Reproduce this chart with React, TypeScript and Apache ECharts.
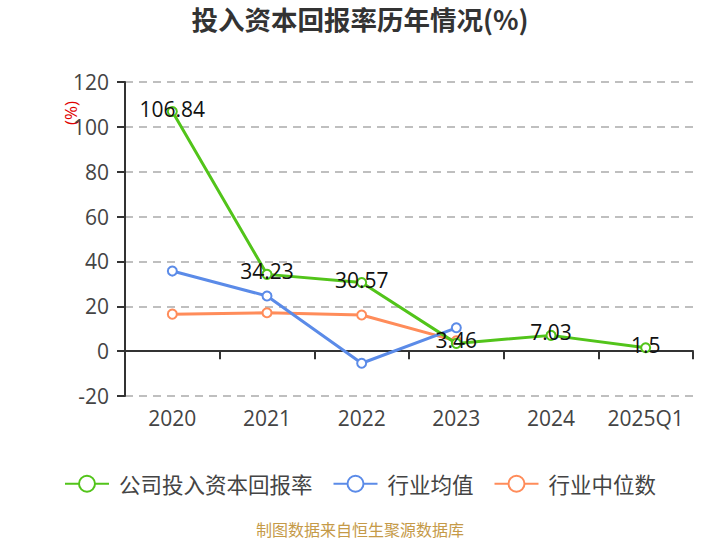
import React, { useEffect, useRef } from "react";
import * as echarts from "echarts";

const categories = ["2020", "2021", "2022", "2023", "2024", "2025Q1"];
const companyValues = [106.84, 34.23, 30.57, 3.46, 7.03, 1.5];
const industryAvg = [35.7, 24.6, -5.4, 10.4, null, null];
const industryMedian = [16.5, 17.1, 16.1, 4.6, null, null];
const seriesNames = ["公司投入资本回报率", "行业均值", "行业中位数"];
const colors = ["#52C41A", "#5B8BE8", "#FF8C5A"];

const FONT = "'Open Sans', 'Noto Sans CJK SC', sans-serif";
const CJK = "'Noto Sans CJK SC', 'Open Sans', sans-serif";

export default function App() {
  const ref = useRef<HTMLDivElement>(null);
  useEffect(() => {
    document.body.style.margin = "0";
    if (!ref.current) return;
    const chart = echarts.init(ref.current, undefined, { renderer: "svg" });
    const mk = (i: number, data: (number | null)[], withLabel: boolean) => ({
      name: seriesNames[i],
      type: "line",
      data,
      symbol: "emptyCircle",
      symbolSize: 9,
      showSymbol: true,
      lineStyle: { width: 3, color: colors[i] },
      itemStyle: { color: colors[i], borderWidth: 2 },
      z: 3 - i,
      label: withLabel
        ? {
            show: true,
            position: "top",
            distance: -13,
            color: "#111",
            fontSize: 21,
            fontFamily: FONT,
          }
        : { show: false },
    });
    chart.setOption({
      animation: false,
      textStyle: { fontFamily: FONT },
      title: {
        text: "投入资本回报率历年情况(%)",
        left: "center",
        top: 0,
        textStyle: { fontSize: 26.5, fontWeight: "bold", color: "#333", fontFamily: CJK },
      },
      grid: { left: 125, right: 27, top: 82, bottom: 144, containLabel: false },
      legend: {
        top: 468,
        left: "center",
        itemWidth: 44,
        itemHeight: 16,
        itemGap: 20,
        icon: "path://M0,8 L14,8 M30,8 L44,8 M30,8 A8,8 0 1 1 14,8 A8,8 0 1 1 30,8 Z",
        textStyle: { fontSize: 21.5, color: "#444", fontFamily: CJK, padding: [0, 0, 0, 5] },
        data: seriesNames.map((n, i) => ({
          name: n,
          itemStyle: { color: "transparent", borderColor: colors[i], borderWidth: 2 },
        })),
      },
      graphic: [
        {
          type: "text",
          x: 70,
          y: 113,
          rotation: Math.PI / 2,
          style: {
            text: "(%)",
            fill: "#E00000",
            fontSize: 17,
            fontFamily: FONT,
            align: "center",
            verticalAlign: "middle",
          },
        },
        {
          type: "text",
          x: 360,
          y: 529,
          style: {
            text: "制图数据来自恒生聚源数据库",
            fill: "#C59A48",
            fontSize: 16,
            lineHeight: 16,
            fontFamily: CJK,
            align: "center",
            verticalAlign: "middle",
          },
        },
      ],
      xAxis: {
        type: "category",
        data: categories,
        boundaryGap: true,
        axisLine: { onZero: true, lineStyle: { color: "#333", width: 2 } },
        axisTick: { show: true, interval: 0, length: 8, lineStyle: { color: "#333", width: 2 } },
        axisLabel: {
          color: "#444",
          fontSize: 21,
          fontFamily: FONT,
          margin: 11,
          interval: 0,
        },
      },
      yAxis: {
        type: "value",
        min: -20,
        max: 120,
        interval: 20,
        axisLine: { show: true, lineStyle: { color: "#333", width: 2 } },
        axisTick: { show: true, length: 8, lineStyle: { color: "#333", width: 2 } },
        axisLabel: { color: "#444", fontSize: 21, fontFamily: FONT, margin: 16 },
        splitLine: { lineStyle: { type: [8, 6], color: "#AAAAAA", width: 1.5 } },
      },
      series: [
        mk(0, companyValues, true),
        mk(1, industryAvg, false),
        mk(2, industryMedian, false),
      ],
    });
    return () => chart.dispose();
  }, []);
  return <div ref={ref} style={{ width: 720, height: 540 }} />;
}
